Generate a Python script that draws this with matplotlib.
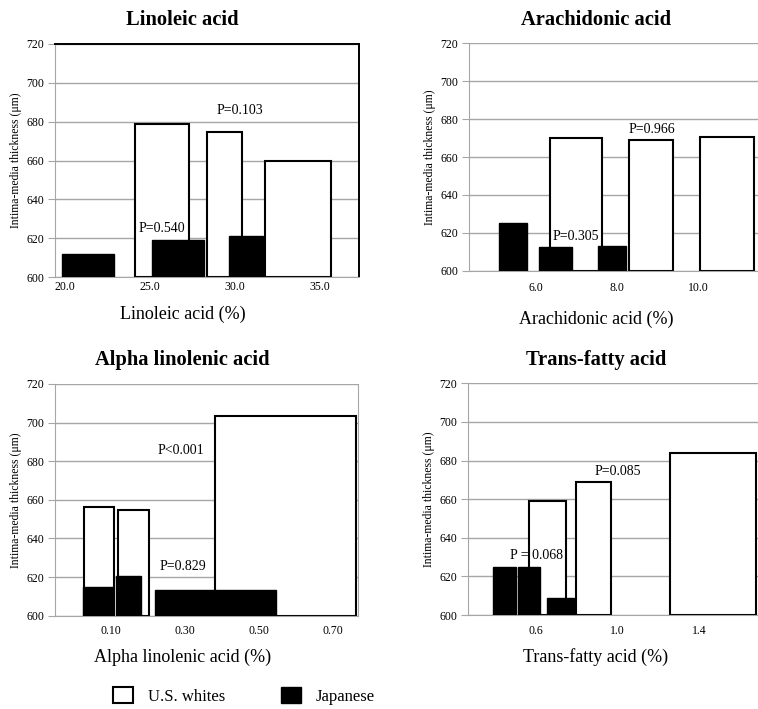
import matplotlib.pyplot as plt
from matplotlib.patches import Patch

plt.rcParams['font.family'] = ['Liberation Serif', 'DejaVu Serif']

# Linoleic acid
la_us_left = [24.13, 28.39, 31.79]
la_us_right = [27.31, 30.45, 35.67]
la_us_imt = [679, 674.5, 659.5]
la_jp_left = [19.81, 25.11, 29.67]
la_jp_right = [22.89, 28.2, 31.66]
la_jp_imt = [611.6, 618.8, 621]
la_ticks = [20.0, 25.0, 30.0, 35.0]

# Arachidonic acid
aa_us_left = [6.35, 8.30, 10.04]
aa_us_right = [7.62, 9.38, 11.37]
aa_us_imt = [670, 668.8, 670.4]
aa_jp_left = [5.10, 6.08, 7.53]
aa_jp_right = [5.77, 6.88, 8.23]
aa_jp_imt = [625, 612.7, 613]
aa_ticks = [6.0, 8.0, 10.0]

# Alpha linolenic acid
ala_us_left = [0.029, 0.119, 0.382]
ala_us_right = [0.109, 0.204, 0.763]
ala_us_imt = [656.5, 655, 703.5]
ala_jp_left = [0.0265, 0.115, 0.220]
ala_jp_right = [0.1076, 0.1816, 0.547]
ala_jp_imt = [615, 620.5, 613.1]
ala_ticks = [0.10, 0.30, 0.50, 0.70]

# Trans-fatty acid
tfa_us_left = [0.568, 0.798, 1.256]
tfa_us_right = [0.749, 0.967, 1.676]
tfa_us_imt = [659.2, 668.7, 683.8]
tfa_jp_left = [0.391, 0.516, 0.654]
tfa_jp_right = [0.505, 0.623, 0.789]
tfa_jp_imt = [624.8, 624.8, 608.6]
tfa_ticks = [0.6, 1.0, 1.4]

W, H = 758, 709
fig = plt.figure(figsize=(W / 100, H / 100), dpi=100)


def px_axes(left, right, top, bottom):
    return fig.add_axes([left / W, 1 - bottom / H, (right - left) / W, (bottom - top) / H])


def panel(ax, title, xlabel, us_l, us_r, us_v, jp_l, jp_r, jp_v, ticks, xlim, tfmt,
          plabels, tpad, lpad, tx, boxed=False, right_spine=False):
    ax.set_ylim(600, 720)
    ax.set_xlim(*xlim)
    ax.set_yticks(range(600, 721, 20))
    ax.yaxis.grid(True, color='#a6a6a6', linewidth=1.0, zorder=0)
    ax.set_axisbelow(True)
    us_w = [r - l for l, r in zip(us_l, us_r)]
    jp_w = [r - l for l, r in zip(jp_l, jp_r)]
    ax.bar(us_l, [v - 600 for v in us_v], width=us_w, bottom=600, align='edge',
           facecolor='white', edgecolor='black', linewidth=1.5, zorder=2)
    ax.bar(jp_l, [v - 600 for v in jp_v], width=jp_w, bottom=600, align='edge',
           facecolor='black', edgecolor='black', linewidth=1.0, zorder=3)
    for txt, x, y in plabels:
        ax.text(x, y, txt, ha='center', va='center', fontsize=10, zorder=4)
    ax.set_xticks(ticks)
    ax.set_xticklabels([tfmt.format(t) for t in ticks], fontsize=8.5)
    ax.tick_params(axis='x', length=0, pad=tpad)
    ax.tick_params(axis='y', length=5, color='#a6a6a6', labelsize=8.5, pad=3)
    for s in ['left', 'bottom']:
        ax.spines[s].set_color('#a6a6a6')
    ax.spines['top'].set_visible(boxed)
    ax.spines['right'].set_visible(boxed or right_spine)
    if boxed:
        ax.spines['top'].set_color('black')
        ax.spines['top'].set_linewidth(1.4)
        ax.spines['right'].set_color('black')
        ax.spines['right'].set_linewidth(1.4)
    elif right_spine:
        ax.spines['right'].set_color('#a6a6a6')
    ax.set_ylabel('Intima-media thickness (μm)', fontsize=8.5, labelpad=3)
    ax.set_xlabel(xlabel, fontsize=13, labelpad=lpad)
    ax.xaxis.label.set_x(tx)
    ax.set_title(title, fontsize=14.8, fontweight='bold', pad=13.5, x=tx)


ax1 = px_axes(55, 358.5, 44, 277)
panel(ax1, 'Linoleic acid', 'Linoleic acid (%)',
      la_us_left, la_us_right, la_us_imt, la_jp_left, la_jp_right, la_jp_imt,
      la_ticks, (19.41, 37.3), '{:.1f}',
      [('P=0.103', 30.32, 685.8), ('P=0.540', 25.73, 625.1)],
      tpad=3, lpad=9, tx=0.42, boxed=True)

ax2 = px_axes(469.3, 758, 43.3, 270.7)
panel(ax2, 'Arachidonic acid', 'Arachidonic acid (%)',
      aa_us_left, aa_us_right, aa_us_imt, aa_jp_left, aa_jp_right, aa_jp_imt,
      aa_ticks, (4.357, 11.47), '{:.1f}',
      [('P=0.966', 8.85, 674.6), ('P=0.305', 6.99, 618.3)],
      tpad=8, lpad=12, tx=0.44)

ax3 = px_axes(55, 358, 384, 615.7)
panel(ax3, 'Alpha linolenic acid', 'Alpha linolenic acid (%)',
      ala_us_left, ala_us_right, ala_us_imt, ala_jp_left, ala_jp_right, ala_jp_imt,
      ala_ticks, (-0.05, 0.769), '{:.2f}',
      [('P<0.001', 0.289, 685.8), ('P=0.829', 0.295, 625.3)],
      tpad=7, lpad=8, tx=0.42, right_spine=True)

ax4 = px_axes(468.3, 758, 383.3, 615)
panel(ax4, 'Trans-fatty acid', 'Trans-fatty acid (%)',
      tfa_us_left, tfa_us_right, tfa_us_imt, tfa_jp_left, tfa_jp_right, tfa_jp_imt,
      tfa_ticks, (0.272, 1.685), '{:.1f}',
      [('P = 0.068', 0.604, 630.7), ('P=0.085', 1.0, 674.2)],
      tpad=7, lpad=8, tx=0.44)

handles = [Patch(facecolor='white', edgecolor='black', linewidth=1.5, label='U.S. whites'),
           Patch(facecolor='black', edgecolor='black', label='Japanese')]
fig.legend(handles=handles, loc='center left', bbox_to_anchor=(105 / W, 1 - 695.7 / H),
           ncol=2, frameon=False, fontsize=12, borderpad=0, handlelength=1.2,
           handleheight=1.15, handletextpad=0.9, columnspacing=3.3)

fig.savefig('out.png', dpi=100)
